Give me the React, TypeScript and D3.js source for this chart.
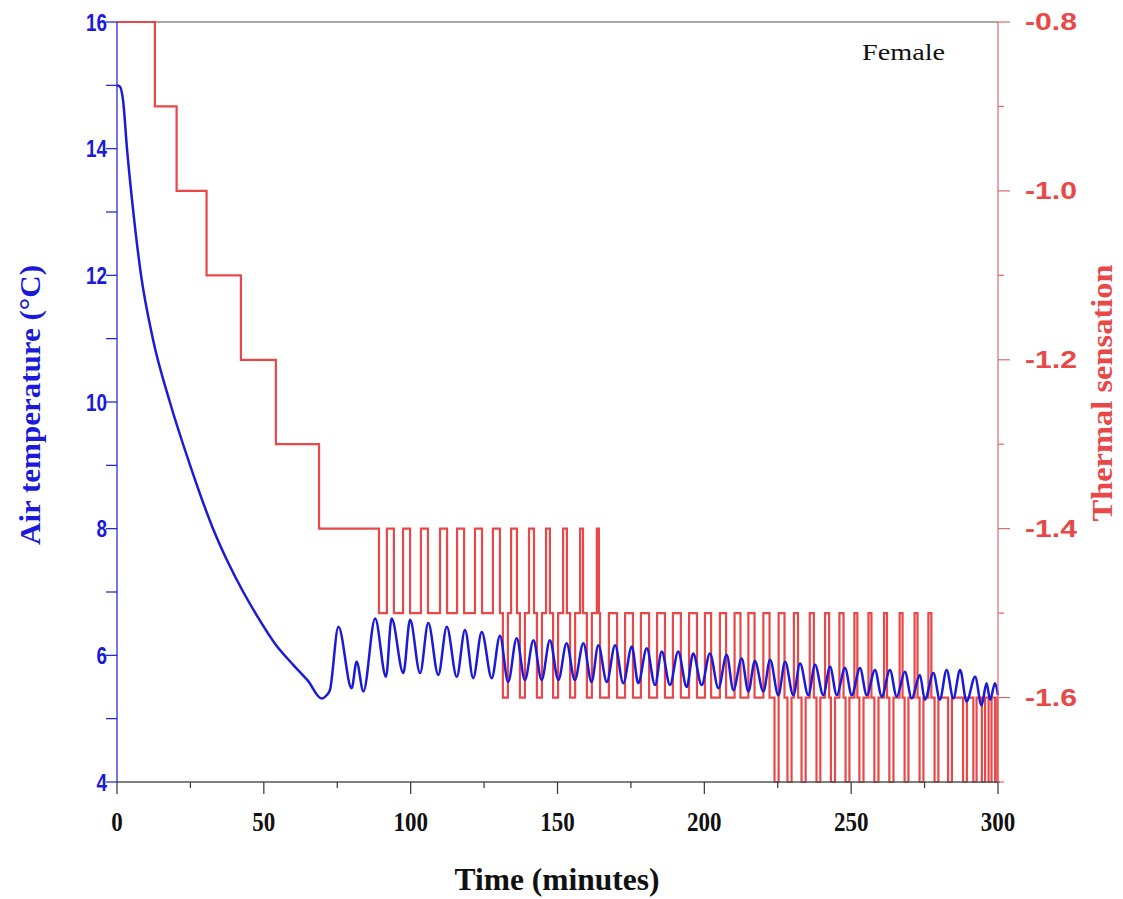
import React from "react";
import * as d3 from "d3";

// ---------- DATA ----------
// Air temperature (°C) vs time (minutes): descent + read peaks/troughs
const tempTime = [
  0, 1, 2.1, 3.4, 5.1, 8.2, 12.2, 18, 24.9, 32.7, 38, 43, 48, 54, 60, 65, 69.7, 71.4, 72.5,
  75.4, 79.9, 81.6, 83.9, 87.9, 91.6, 93.5, 97.5, 99.8, 103.2, 106.0, 109.4, 112.3, 115.7, 118.5, 121.3,
  124.2, 127.6, 130.4, 133.2, 136.1, 138.9, 141.8, 144.6, 147.4, 150.3, 153.1, 155.9, 158.8, 161.6,
  163.9, 166.8, 169.6, 172.4, 175.3, 177.5, 180.4, 183.2, 185.5, 188.3, 191.1, 194.0, 196.2, 199.1,
  201.9, 204.8, 207.6, 209.9, 212.7, 215.0, 217.2, 220.1, 222.4, 225.2, 227.5, 230.3, 232.6, 235.4,
  237.7, 240.5, 242.8, 245.1, 247.9, 250.2, 253.0, 255.3, 258.1, 260.4, 263.2, 265.5, 268.3, 270.6,
  273.4, 275.1, 278.0, 280.2, 282.5, 284.8, 287.1, 289.3, 292.2, 294.4, 296.1, 297.3, 299.0, 300,
];
const tempValue = [
  15.0, 14.98, 14.75, 14.0, 13.2, 12.0, 11.0, 10.0, 9.0, 8.0, 7.45, 7.0, 6.6, 6.17, 5.85, 5.6, 5.32, 5.37, 5.45,
  6.45, 5.48, 5.9, 5.43, 6.58, 5.66, 6.58, 5.72, 6.56, 5.72, 6.51, 5.69, 6.45, 5.66, 6.4, 5.64,
  6.37, 5.64, 6.31, 5.58, 6.27, 5.61, 6.24, 5.61, 6.24, 5.61, 6.19, 5.61, 6.19, 5.58,
  6.16, 5.58, 6.16, 5.56, 6.14, 5.56, 6.11, 5.53, 6.06, 5.53, 6.06, 5.5, 6.03, 5.53,
  6.03, 5.48, 6.01, 5.45, 5.95, 5.43, 5.91, 5.43, 5.93, 5.37, 5.9, 5.37, 5.87, 5.37,
  5.85, 5.37, 5.82, 5.37, 5.8, 5.37, 5.8, 5.37, 5.77, 5.35, 5.77, 5.35, 5.74, 5.32,
  5.69, 5.3, 5.72, 5.3, 5.77, 5.32, 5.77, 5.27, 5.66, 5.21, 5.56, 5.3, 5.56, 5.37,
];

// Thermal sensation: base step levels
const baseTime = [0, 12.9, 20.3, 30.5, 42.2, 54.1, 68.8, 89.2, 164.5];
const baseValue = [-0.8, -0.9, -1.0, -1.1, -1.2, -1.3, -1.4, -1.5, -1.6];

// Short excursions [start, end] (minutes) to the given level
const pulsesTo14 = [
  [91.9, 94.3], [97.4, 99.8], [103.5, 105.9], [110.0, 112.4], [115.8, 118.2], [121.9, 124.3],
  [128.0, 130.4], [134.2, 136.2], [140.3, 142.0], [146.1, 147.4], [151.9, 153.2], [157.7, 158.7],
  [163.4, 164.1],
];
const pulsesTo16 = [
  [131.4, 133.1], [137.2, 138.9], [143.0, 144.7], [148.5, 150.2], [154.3, 156.0], [160.0, 161.7],
];
const pulsesTo15 = [
  [167.5, 170.3], [173.0, 175.7], [178.4, 181.2], [183.9, 186.6], [189.3, 192.0], [194.8, 197.5],
  [200.2, 202.3], [205.3, 207.4], [210.3, 212.3], [215.0, 217.1], [220.1, 222.2], [225.3, 227.3],
  [230.5, 231.9], [235.9, 237.3], [241.1, 242.5], [246.0, 247.4], [251.1, 252.1], [255.9, 256.9],
  [261.2, 262.2], [266.5, 267.5], [271.6, 272.6], [276.3, 277.3],
];
const pulsesTo17 = [
  [223.9, 225.3], [228.3, 229.7], [233.1, 234.5], [238.2, 239.5], [243.1, 244.5], [248.1, 249.4],
  [252.8, 254.2], [257.9, 259.3], [263.0, 264.4], [268.2, 269.5], [273.3, 274.6], [278.4, 279.7],
  [283.0, 284.3], [288.1, 289.4], [291.6, 292.7], [294.5, 295.6], [296.8, 297.8], [299.0, 299.8],
];

const xTicks = [0, 50, 100, 150, 200, 250, 300];
const leftTicks = [4, 6, 8, 10, 12, 14, 16];
const rightTicks = [-0.8, -1.0, -1.2, -1.4, -1.6];

// ---------- LAYOUT ----------
const W = 1123;
const H = 899;
const X0 = 117, X1 = 998, Y0 = 22, Y1 = 782;

const BLUE = "#1a1ad8";
const RED = "#e84848";
const SERIF = "'Liberation Serif', 'Times New Roman', serif";
const SANS = "'Liberation Sans', Arial, sans-serif";

export default function App() {
  const x = d3.scaleLinear().domain([0, 300]).range([X0, X1]);
  const yL = d3.scaleLinear().domain([4, 16]).range([Y1, Y0]);
  const yR = d3.scaleLinear().domain([-1.7, -0.8]).range([Y1, Y0]);

  // build the sensation step series
  const pulseSets: [number[][], number][] = [
    [pulsesTo14, -1.4], [pulsesTo16, -1.6], [pulsesTo15, -1.5], [pulsesTo17, -1.7],
  ];
  const valueAt = (t: number) => {
    for (const [set, v] of pulseSets) {
      for (const p of set) if (t >= p[0] && t < p[1]) return v;
    }
    let v = baseValue[0];
    for (let i = 0; i < baseTime.length; i++) if (t >= baseTime[i]) v = baseValue[i];
    return v;
  };
  const breaks = new Set<number>(baseTime);
  pulseSets.forEach(([set]) => set.forEach((p) => { breaks.add(p[0]); breaks.add(p[1]); }));
  const bt = Array.from(breaks).filter((t) => t < 300).sort((a, b) => a - b);
  const sens: [number, number][] = bt.map((t) => [t, valueAt(t + 1e-6)]);
  sens.push([300, sens[sens.length - 1][1]]);

  const redPath = d3.line<[number, number]>()
    .x((d) => x(d[0]))
    .y((d) => yR(d[1]))
    .curve(d3.curveStepAfter)(sens) || "";

  const tempPts: [number, number][] = tempTime.map((t, i) => [t, tempValue[i]]);
  const bluePath = d3.line<[number, number]>()
    .x((d) => x(d[0]))
    .y((d) => yL(d[1]))
    .curve(d3.curveMonotoneX)(tempPts) || "";

  const xMinor = d3.range(0, 301, 25);
  const leftMinor = d3.range(4, 16.01, 1);
  const rightMinor = d3.range(-1.7, -0.79, 0.1);

  return (
    <svg width={W} height={H} style={{ position: "absolute", left: 0, top: 0, background: "#fff" }}>
      {/* top frame */}
      <line x1={X0} x2={X1} y1={Y0} y2={Y0} stroke="#555" strokeWidth={1.2} />
      {/* data */}
      <path d={redPath} fill="none" stroke={RED} strokeWidth={2.2} strokeLinejoin="miter" />
      <path d={bluePath} fill="none" stroke={BLUE} strokeWidth={2.5} />

      {/* bottom axis */}
      <line x1={X0} x2={X1 + 2} y1={Y1} y2={Y1} stroke="#555" strokeWidth={1.5} />
      {xMinor.map((t) => (
        <line key={"xm" + t} x1={x(t)} x2={x(t)} y1={Y1} y2={Y1 + (t % 50 === 0 ? 12 : 6)} stroke="#333" strokeWidth={1.2} />
      ))}
      {xTicks.map((t) => (
        <text key={"xt" + t} x={x(t)} y={831} textAnchor="middle" fontFamily={SERIF} fontWeight="bold" fontSize={27}
          textLength={String(t).length * 11.5} lengthAdjust="spacingAndGlyphs" fill="#111">
          {t}
        </text>
      ))}
      <text x={557} y={890} textAnchor="middle" fontFamily={SERIF} fontWeight="bold" fontSize={31}
        textLength={205} lengthAdjust="spacingAndGlyphs" fill="#111">
        Time (minutes)
      </text>

      {/* left axis */}
      <line x1={X0} x2={X0} y1={Y0} y2={Y1} stroke={BLUE} strokeWidth={1.2} />
      {leftMinor.map((v) => (
        <line key={"lm" + v} x1={X0 - 11} x2={X0} y1={yL(v)} y2={yL(v)} stroke={BLUE} strokeWidth={1.2} />
      ))}
      {leftTicks.map((v) => (
        <text key={"lt" + v} x={107} y={yL(v)} dy="0.36em" textAnchor="end" fontFamily={SANS} fontWeight="bold" fontSize={24}
          textLength={String(v).length * 10.5} lengthAdjust="spacingAndGlyphs" fill={BLUE}>
          {v}
        </text>
      ))}
      <text transform={`translate(40,405) rotate(-90)`} textAnchor="middle" fontFamily={SERIF} fontWeight="bold" fontSize={29}
        textLength={280} lengthAdjust="spacingAndGlyphs" fill={BLUE}>
        Air temperature (°C)
      </text>

      {/* right axis */}
      <line x1={X1} x2={X1} y1={Y0} y2={Y1} stroke="#d86a6a" strokeWidth={1.2} />
      {rightMinor.map((v, i) => (
        <line key={"rm" + i} x1={X1} x2={X1 + (i % 2 === 1 ? 12 : 6)} y1={yR(v)} y2={yR(v)} stroke="#d86a6a" strokeWidth={1.2} />
      ))}
      {rightTicks.map((v) => (
        <text key={"rt" + v} x={1025} y={yR(v)} dy="0.36em" textAnchor="start" fontFamily={SANS} fontWeight="bold" fontSize={23}
          textLength={52} lengthAdjust="spacingAndGlyphs" fill={RED}>
          {v.toFixed(1)}
        </text>
      ))}
      <text transform={`translate(1112,393) rotate(-90)`} textAnchor="middle" fontFamily={SERIF} fontWeight="bold" fontSize={29}
        textLength={257} lengthAdjust="spacingAndGlyphs" fill={RED}>
        Thermal sensation
      </text>

      <text x={862} y={60} fontFamily={SERIF} fontSize={24} textLength={83} lengthAdjust="spacingAndGlyphs" fill="#111">
        Female
      </text>
    </svg>
  );
}
